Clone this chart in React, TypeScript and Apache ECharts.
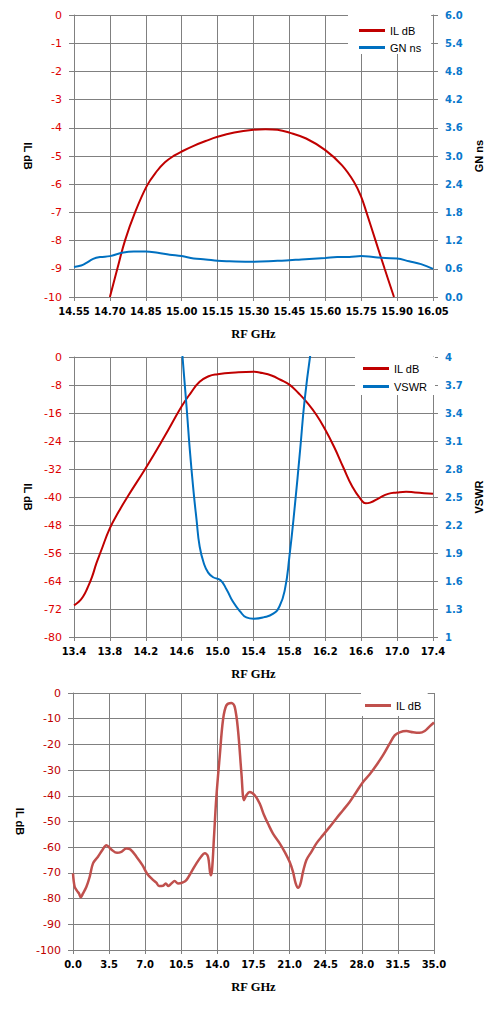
import React, { useEffect, useRef } from "react";
import * as echarts from "echarts";

// ---------- Chart 1: IL dB & GN ns vs RF GHz (14.55 - 16.05) ----------
const c1IlFreq = [14.70, 14.731, 14.763, 14.805, 14.855, 14.895, 14.93, 14.97, 15.00, 15.05, 15.10, 15.15, 15.22, 15.30, 15.35, 15.40, 15.45, 15.52, 15.60, 15.67, 15.72, 15.75, 15.772, 15.81, 15.848, 15.887];
const c1Il = [-10, -9, -8, -7, -6.05, -5.55, -5.22, -4.98, -4.84, -4.64, -4.47, -4.32, -4.17, -4.07, -4.05, -4.07, -4.17, -4.38, -4.79, -5.33, -5.92, -6.45, -7, -8, -9, -10];
const c1GnFreq = [14.55, 14.58, 14.60, 14.63, 14.66, 14.70, 14.75, 14.80, 14.85, 14.90, 14.95, 15.00, 15.05, 15.10, 15.15, 15.20, 15.30, 15.40, 15.45, 15.50, 15.60, 15.65, 15.70, 15.75, 15.80, 15.85, 15.90, 15.95, 16.00, 16.05];
const c1Gn = [0.64, 0.67, 0.72, 0.81, 0.85, 0.87, 0.94, 0.97, 0.97, 0.94, 0.90, 0.87, 0.82, 0.80, 0.77, 0.76, 0.75, 0.77, 0.78, 0.80, 0.83, 0.85, 0.85, 0.87, 0.85, 0.83, 0.82, 0.76, 0.70, 0.60];

// ---------- Chart 2: IL dB & VSWR vs RF GHz (13.4 - 17.4) ----------
const c2IlFreq = [13.4, 13.45, 13.5, 13.55, 13.6, 13.65, 13.7, 13.8, 13.9, 14.0, 14.2, 14.4, 14.6, 14.7, 14.8, 14.9, 15.0, 15.2, 15.4, 15.5, 15.6, 15.7, 15.8, 15.9, 16.0, 16.1, 16.2, 16.3, 16.4, 16.5, 16.6, 16.65, 16.7, 16.8, 16.9, 17.0, 17.1, 17.2, 17.3, 17.4];
const c2Il = [-70.95, -70, -68.5, -66, -62.9, -58.9, -55.5, -48.9, -44.1, -39.8, -31.7, -23.1, -14.1, -10.3, -7.1, -5.5, -4.9, -4.4, -4.2, -4.6, -5.3, -6.5, -7.9, -10.3, -13.1, -16.5, -20.8, -25.8, -31.5, -37.0, -40.8, -41.8, -41.6, -40.3, -39.1, -38.7, -38.5, -38.7, -38.9, -39.1];
const c2VswrFreq = [14.605, 14.654, 14.69, 14.73, 14.765, 14.80, 14.85, 14.895, 14.95, 15.03, 15.10, 15.17, 15.25, 15.32, 15.40, 15.51, 15.62, 15.69, 15.75, 15.80, 15.86, 15.92, 15.97, 16.037];
const c2Vswr = [4.05, 3.47, 3.01, 2.58, 2.26, 1.97, 1.78, 1.69, 1.64, 1.61, 1.51, 1.38, 1.275, 1.21, 1.196, 1.21, 1.25, 1.33, 1.51, 1.86, 2.4, 3.01, 3.54, 4.05];

// ---------- Chart 3: IL dB vs RF GHz (0 - 35) ----------
const c3Freq = [0, 0.16, 0.39, 0.58, 0.75, 0.97, 1.3, 1.62, 1.94, 2.42, 2.85, 3.24, 3.72, 4.27, 4.69, 5.18, 5.57, 6.15, 6.73, 7.17, 7.7, 8.08, 8.34, 8.73, 8.99, 9.25, 9.54, 9.86, 10.18, 10.6, 10.99, 11.48, 11.97, 12.45, 12.77, 13.09, 13.35, 13.48, 13.67, 13.9, 14.22, 14.54, 14.87, 15.36, 15.68, 16.0, 16.33, 16.58, 16.81, 17.13, 17.62, 18.1, 18.52, 18.9, 19.39, 20.04, 20.52, 21.0, 21.33, 21.59, 21.82, 22.04, 22.3, 22.63, 23.11, 23.6, 24.24, 24.89, 25.53, 26.18, 26.82, 27.47, 28.12, 28.77, 29.41, 30.06, 30.7, 31.19, 31.67, 32.32, 32.97, 33.61, 34.1, 34.58, 35.0];
const c3Il = [-70.2, -75.4, -77, -78, -79.5, -78, -75.4, -71.5, -66.3, -63.7, -61.1, -59.2, -60.9, -62.2, -61.8, -60.5, -60.9, -63.7, -67, -70.2, -72.5, -73.8, -75.1, -75, -74.1, -75.1, -74.1, -73.2, -74.1, -73.8, -72.8, -69.6, -66.3, -63.5, -62.4, -63.7, -70.9, -68.9, -56, -40.4, -24.9, -10.6, -4.8, -3.9, -5.4, -14.5, -31.3, -41.7, -39.8, -38.5, -39.8, -43, -47.5, -50.8, -54.7, -58.5, -61.8, -65.7, -69.6, -74.1, -75.8, -74.4, -69.6, -65, -61.8, -58.5, -55.3, -52.1, -48.8, -45.6, -42.4, -38.5, -34.6, -31.6, -28.1, -24.2, -19.7, -16.5, -15.3, -14.8, -15.3, -15.5, -14.8, -13, -11.5];

const GRID = "#808080";
const RED_LINE = "#C00000";
const BLUE_LINE = "#0070C0";
const RED_LINE3 = "#C0504D";
const RED_LABEL = "#DD0000";
const RED_LABEL3 = "#C00000";
const BLUE_LABEL = "#0A78CC";

const pairs = (xs: number[], ys: number[]) => xs.map((x, i) => [x, ys[i]]);

function xAxisDef(gridIndex: number, min: number, max: number, interval: number, digits: number) {
  return {
    type: "value",
    gridIndex,
    min,
    max,
    interval,
    name: "RF GHz",
    nameLocation: "middle",
    nameGap: 30,
    nameTextStyle: { fontFamily: "Liberation Serif", fontWeight: "bold", fontSize: 12.5, color: "#000" },
    axisLine: { show: true, onZero: false, lineStyle: { color: GRID, width: 1 } },
    axisTick: { show: true, length: 4, inside: false, lineStyle: { color: GRID } },
    axisLabel: {
      margin: 9,
      fontFamily: "DejaVu Sans",
      fontWeight: "bold",
      fontSize: 10,
      color: "#000",
      formatter: (v: number) => v.toFixed(digits),
    },
    splitLine: { show: true, lineStyle: { color: GRID, width: 1 } },
  };
}

function leftYDef(gridIndex: number, min: number, max: number, interval: number, nameGap: number, labelColor: string) {
  return {
    type: "value",
    gridIndex,
    position: "left",
    min,
    max,
    interval,
    name: "IL dB",
    nameLocation: "middle",
    nameRotate: -90,
    nameGap,
    nameTextStyle: { fontFamily: "Liberation Sans", fontWeight: "bold", fontSize: 11, color: "#000" },
    axisLine: { show: true, onZero: false, lineStyle: { color: GRID, width: 1 } },
    axisTick: { show: true, length: 5, inside: false, lineStyle: { color: GRID } },
    axisLabel: { margin: 12, fontFamily: "DejaVu Sans", fontSize: 11, color: labelColor },
    splitLine: { show: true, lineStyle: { color: GRID, width: 1 } },
  };
}

function rightYDef(gridIndex: number, min: number, max: number, interval: number, name: string, nameGap: number, fmt?: (v: number) => string) {
  return {
    type: "value",
    gridIndex,
    position: "right",
    min,
    max,
    interval,
    name,
    nameLocation: "middle",
    nameRotate: 90,
    nameGap,
    nameTextStyle: { fontFamily: "Liberation Sans", fontWeight: "bold", fontSize: 11, color: "#000" },
    axisLine: { show: true, onZero: false, lineStyle: { color: GRID, width: 1 } },
    axisTick: { show: true, length: 5, inside: false, lineStyle: { color: GRID } },
    axisLabel: {
      margin: 12,
      fontFamily: "DejaVu Sans",
      fontWeight: "bold",
      fontSize: 10,
      color: BLUE_LABEL,
      ...(fmt ? { formatter: fmt } : {}),
    },
    splitLine: { show: false },
  };
}

function legendDef(left: number, top: number, padding: number[], itemGap: number, data: any[]) {
  return {
    orient: "vertical",
    left,
    top,
    padding,
    itemGap,
    backgroundColor: "#ffffff",
    icon: "rect",
    itemWidth: 26,
    itemHeight: 3,
    selectedMode: false,
    textStyle: { fontFamily: "Liberation Sans", fontSize: 11, color: "#000" },
    data,
  };
}

function lineSeries(name: string, x: number, y: number, data: number[][], color: string, width: number, smooth: number) {
  return {
    type: "line",
    name,
    xAxisIndex: x,
    yAxisIndex: y,
    data,
    showSymbol: false,
    symbol: "none",
    smooth,
    clip: true,
    color,
    lineStyle: { color, width },
    itemStyle: { color },
  };
}

export default function App() {
  const ref = useRef<HTMLDivElement>(null);

  useEffect(() => {
    if (!ref.current) return;
    const chart = echarts.init(ref.current, undefined, { renderer: "svg" });
    chart.setOption({
      animation: false,
      backgroundColor: "#ffffff",
      grid: [
        { left: 74, top: 15, width: 359, height: 282 },
        { left: 74, top: 357, width: 359, height: 280 },
        { left: 73, top: 693, width: 361, height: 257 },
      ],
      xAxis: [
        xAxisDef(0, 14.55, 16.05, 0.15, 2),
        xAxisDef(1, 13.4, 17.4, 0.4, 1),
        xAxisDef(2, 0, 35, 3.5, 1),
      ],
      yAxis: [
        leftYDef(0, -10, 0, 1, 37, RED_LABEL),
        rightYDef(0, 0, 6, 0.6, "GN ns", 40, (v: number) => v.toFixed(1)),
        leftYDef(1, -80, 0, 8, 37, RED_LABEL),
        rightYDef(1, 1, 4, 0.3, "VSWR", 37),
        leftYDef(2, -100, 0, 10, 43, RED_LABEL3),
      ],
      legend: [
        legendDef(348, 15, [10, 10, 1, 11], 6, [
          { name: "IL dB", itemStyle: { color: RED_LINE } },
          { name: "GN ns", itemStyle: { color: BLUE_LINE } },
        ]),
        legendDef(355, 357, [6, 8, 3, 8], 7, [
          { name: "IL dB", itemStyle: { color: RED_LINE } },
          { name: "VSWR", itemStyle: { color: BLUE_LINE } },
        ]),
        legendDef(361, 693, [7, 6, 5, 4], 6, [
          { name: "IL dB", itemStyle: { color: RED_LINE3 } },
        ]),
      ],
      series: [
        lineSeries("IL dB", 0, 0, pairs(c1IlFreq, c1Il), RED_LINE, 2, 0.4),
        lineSeries("GN ns", 0, 1, pairs(c1GnFreq, c1Gn), BLUE_LINE, 2, 0.4),
        lineSeries("IL dB", 1, 2, pairs(c2IlFreq, c2Il), RED_LINE, 2, 0.5),
        lineSeries("VSWR", 1, 3, pairs(c2VswrFreq, c2Vswr), BLUE_LINE, 2, 0.5),
        lineSeries("IL dB", 2, 4, pairs(c3Freq, c3Il), RED_LINE3, 2.5, 0.35),
      ],
    });
    return () => chart.dispose();
  }, []);

  return (
    <div
      ref={ref}
      style={{ position: "absolute", left: 0, top: 0, width: 503, height: 1013, background: "#fff" }}
    />
  );
}
